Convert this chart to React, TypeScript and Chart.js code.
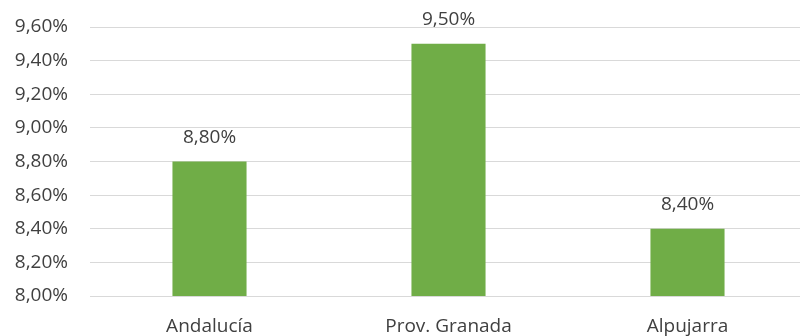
import React, { useEffect, useRef } from "react";
import { Chart, registerables } from "chart.js";

Chart.register(...registerables);

const categories = ["Andalucía", "Prov. Granada", "Alpujarra"];
const values = [8.8, 9.5, 8.4];
const yMin = 8.0;
const yMax = 9.6;
const yStep = 0.2;

const fmt = (v: number) => v.toFixed(2).replace(".", ",") + "%";
const FONT = "'Open Sans', sans-serif";

const labelPlugin = {
  id: "barLabels",
  afterDatasetsDraw(chart: any) {
    const ctx = chart.ctx;
    const meta = chart.getDatasetMeta(0);
    ctx.save();
    ctx.font = `19px ${FONT}`;
    ctx.fillStyle = "#404040";
    ctx.textAlign = "center";
    ctx.textBaseline = "middle";
    meta.data.forEach((bar: any, i: number) => {
      ctx.fillText(fmt(values[i]), bar.x, bar.y - 24);
    });
    ctx.restore();
  },
};

export default function App() {
  const ref = useRef<HTMLCanvasElement | null>(null);
  useEffect(() => {
    document.body.style.margin = "0";
    document.body.style.overflow = "hidden";
    const chart = new Chart(ref.current as HTMLCanvasElement, {
      type: "bar",
      data: {
        labels: categories,
        datasets: [
          {
            data: values,
            backgroundColor: "#70AD47",
            barPercentage: 0.31,
            categoryPercentage: 1,
          },
        ],
      },
      options: {
        animation: false,
        responsive: false,
        layout: { padding: { top: 27, right: 3, left: 0, bottom: 0 } },
        plugins: { legend: { display: false }, tooltip: { enabled: false } },
        scales: {
          x: {
            grid: { display: false },
            border: { color: "#d9d9d9", width: 1 },
            ticks: { color: "#404040", font: { family: FONT, size: 19 }, padding: 11 },
            afterFit: (s: any) => {
              s.height = 40;
            },
          },
          y: {
            min: yMin,
            max: yMax,
            border: { display: false },
            grid: { color: "#d9d9d9", lineWidth: 1, drawTicks: false },
            ticks: {
              stepSize: yStep,
              color: "#404040",
              font: { family: FONT, size: 19 },
              padding: 22,
              callback: (v: any) => fmt(Number(v)),
            },
            afterFit: (s: any) => {
              s.width = 90;
              s.paddingTop = 0;
              s.paddingBottom = 0;
            },
          },
        },
      },
      plugins: [labelPlugin],
    });
    return () => chart.destroy();
  }, []);
  return (
    <div style={{ position: "absolute", left: 0, top: 0, width: 810, height: 336 }}>
      <canvas ref={ref} width={810} height={336} style={{ width: 810, height: 336 }} />
    </div>
  );
}
